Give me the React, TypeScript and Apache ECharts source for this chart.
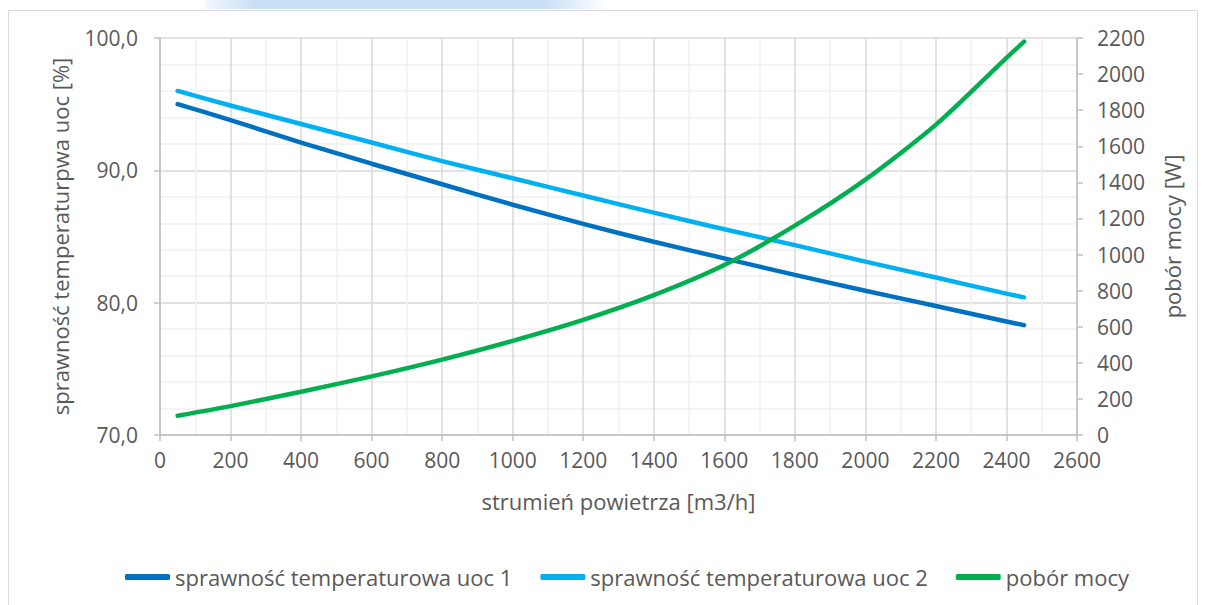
import React, { useEffect, useRef } from "react";
import * as echarts from "echarts";

const xValues = [50, 200, 400, 600, 800, 1000, 1200, 1400, 1600, 1800, 2000, 2200, 2400, 2450];
const uoc1 = [95.0, 93.8, 92.1, 90.5, 88.95, 87.4, 85.95, 84.6, 83.35, 82.1, 80.9, 79.75, 78.58, 78.3];
const uoc2 = [96.0, 94.9, 93.5, 92.1, 90.7, 89.4, 88.1, 86.8, 85.55, 84.35, 83.1, 81.9, 80.68, 80.4];
const power = [107, 160, 240, 325, 418, 522, 638, 775, 942, 1160, 1415, 1720, 2090, 2180];

const seriesNames = [
  "sprawność temperaturowa uoc 1",
  "sprawność temperaturowa uoc 2",
  "pobór mocy",
];
const xAxisName = "strumień powietrza [m3/h]";
const leftAxisName = "sprawność temperaturpwa uoc [%]";
const rightAxisName = "pobór mocy [W]";

const FONT = "'Open Sans', 'Noto Sans', sans-serif";
const TEXT = "#595959";
const FS = 21;
const FS_NAME = 22;

export default function App() {
  const ref = useRef<HTMLDivElement>(null);
  useEffect(() => {
    document.body.style.margin = "0";
    const chart = echarts.init(ref.current!, undefined, { renderer: "svg" });
    const pairs = (ys: number[]) => xValues.map((x, i) => [x, ys[i]]);
    const lineSeries = (name: string, ys: number[], color: string, axis: number) => ({
      name,
      type: "line",
      yAxisIndex: axis,
      data: pairs(ys),
      smooth: 0.25,
      symbol: "none",
      itemStyle: { color },
      lineStyle: { color, width: 4.5, cap: "round" },
    });
    chart.setOption({
      animation: false,
      backgroundColor: "#ffffff",
      textStyle: { fontFamily: FONT, color: TEXT },
      graphic: [
        {
          type: "rect",
          shape: { x: 205, y: 0, width: 400, height: 9 },
          style: {
            fill: new echarts.graphic.LinearGradient(0, 0, 1, 0, [
              { offset: 0, color: "rgba(200,224,246,0.2)" },
              { offset: 0.12, color: "rgba(200,224,246,1)" },
              { offset: 0.85, color: "rgba(200,224,246,1)" },
              { offset: 1, color: "rgba(200,224,246,0)" },
            ]),
          },
          silent: true,
        },
        {
          type: "rect",
          shape: { x: 8.5, y: 10.5, width: 1189, height: 620 },
          style: { fill: "none", stroke: "#d9d9d9", lineWidth: 1 },
          silent: true,
        },
      ],
      grid: { left: 160, right: 128, top: 38, bottom: 170, containLabel: false },
      legend: {
        bottom: 12,
        left: 120,
        itemWidth: 45,
        itemHeight: 6,
        itemGap: 28,
        icon: "roundRect",
        textStyle: { fontFamily: FONT, fontSize: FS_NAME, color: TEXT },
        data: seriesNames,
      },
      xAxis: {
        type: "value",
        min: 0,
        max: 2600,
        interval: 200,
        name: xAxisName,
        nameLocation: "middle",
        nameGap: 55,
        nameTextStyle: { fontFamily: FONT, fontSize: FS_NAME, color: TEXT },
        axisLine: { show: true, lineStyle: { color: "#bfbfbf", width: 1.5 } },
        axisTick: { show: true, length: 6, lineStyle: { color: "#bfbfbf", width: 1.5 } },
        axisLabel: {
          fontFamily: FONT,
          fontSize: FS,
          color: TEXT,
          margin: 14,
          formatter: (v: number) => String(v),
        },
        splitLine: { show: true, lineStyle: { color: "#d9d9d9", width: 1.5 } },
        minorTick: { show: false, splitNumber: 2 },
        minorSplitLine: { show: true, lineStyle: { color: "#f0f0f0", width: 1.5 } },
      },
      yAxis: [
        {
          type: "value",
          min: 70,
          max: 100,
          interval: 10,
          name: leftAxisName,
          nameLocation: "middle",
          nameGap: 89,
          nameTextStyle: { fontFamily: FONT, fontSize: FS_NAME, color: TEXT },
          axisLine: { show: true, lineStyle: { color: "#bfbfbf", width: 1.5 } },
          axisTick: { show: true, length: 6, lineStyle: { color: "#bfbfbf", width: 1.5 } },
          axisLabel: {
            fontFamily: FONT,
            fontSize: FS,
            color: TEXT,
            margin: 22,
            formatter: (v: number) => v.toFixed(1).replace(".", ","),
          },
          splitLine: { show: true, lineStyle: { color: "#d9d9d9", width: 1.5 } },
          minorTick: { show: false, splitNumber: 5 },
          minorSplitLine: { show: true, lineStyle: { color: "#f0f0f0", width: 1.5 } },
        },
        {
          type: "value",
          min: 0,
          max: 2200,
          interval: 200,
          position: "right",
          name: rightAxisName,
          nameLocation: "middle",
          nameGap: 84,
          nameTextStyle: { fontFamily: FONT, fontSize: FS_NAME, color: TEXT },
          axisLine: { show: true, lineStyle: { color: "#bfbfbf", width: 1.5 } },
          axisTick: { show: true, length: 6, lineStyle: { color: "#bfbfbf", width: 1.5 } },
          axisLabel: {
            fontFamily: FONT,
            fontSize: FS,
            color: TEXT,
            margin: 20,
            formatter: (v: number) => String(v),
          },
          splitLine: { show: false },
        },
      ],
      series: [
        lineSeries(seriesNames[0], uoc1, "#0070C0", 0),
        lineSeries(seriesNames[1], uoc2, "#00B0F0", 0),
        lineSeries(seriesNames[2], power, "#00B050", 1),
      ],
    });
    return () => chart.dispose();
  }, []);
  return <div ref={ref} style={{ width: 1205, height: 605 }} />;
}
